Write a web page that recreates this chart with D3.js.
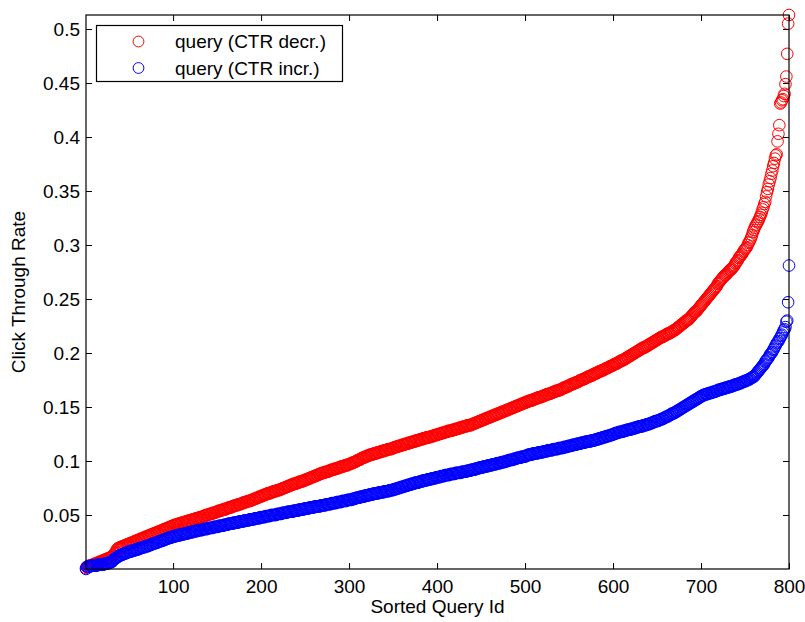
<!DOCTYPE html>
<html>
<head>
<meta charset="utf-8">
<script src="https://cdn.jsdelivr.net/npm/d3@7"></script>
<style>
  html, body { margin: 0; padding: 0; background: #fff; }
  svg { display: block; }
  text { font-family: "Liberation Sans", Arial, Helvetica, sans-serif; fill: #000; }
</style>
</head>
<body>
<div id="chart"></div>
<script>
// ---- Data (sorted click-through rate for each query id 1..800) ----
const seriesNames = ["query (CTR decr.)", "query (CTR incr.)"];
const seriesColors = ["#ff0000", "#0000ff"];
const xTicks = [100, 200, 300, 400, 500, 600, 700, 800];
const yTicks = [0.05, 0.1, 0.15, 0.2, 0.25, 0.3, 0.35, 0.4, 0.45, 0.5];
const yTickLabels = ["0.05", "0.1", "0.15", "0.2", "0.25", "0.3", "0.35", "0.4", "0.45", "0.5"];
const xLabel = "Sorted Query Id";
const yLabel = "Click Through Rate";

const ctrDecr = [
.001,.002,.002,.003,.003,.003,.003,.004,.004,.004,.005,.005,.005,.006,.006,.006,.007,.007,.007,.008,
.008,.008,.009,.009,.009,.010,.010,.010,.011,.011,.012,.013,.014,.015,.016,.018,.019,.019,.020,.020,
.020,.021,.021,.021,.022,.022,.022,.023,.023,.023,.024,.024,.024,.025,.025,.025,.026,.026,.026,.027,
.027,.027,.028,.028,.028,.029,.029,.029,.030,.030,.030,.031,.031,.031,.032,.032,.032,.033,.033,.033,
.034,.034,.034,.035,.035,.035,.036,.036,.036,.037,.037,.037,.038,.038,.038,.039,.039,.039,.040,.040,
.040,.041,.041,.041,.041,.042,.042,.042,.042,.043,.043,.043,.043,.044,.044,.044,.044,.045,.045,.045,
.045,.046,.046,.046,.046,.047,.047,.047,.047,.048,.048,.048,.048,.049,.049,.049,.050,.050,.050,.050,
.051,.051,.051,.051,.052,.052,.052,.052,.053,.053,.053,.054,.054,.054,.054,.055,.055,.055,.055,.056,
.056,.056,.057,.057,.057,.057,.058,.058,.058,.059,.059,.059,.059,.060,.060,.060,.060,.061,.061,.061,
.062,.062,.062,.062,.063,.063,.063,.063,.064,.064,.064,.065,.065,.065,.066,.066,.066,.067,.067,.067,
.068,.068,.068,.069,.069,.069,.070,.070,.070,.070,.071,.071,.071,.072,.072,.072,.072,.073,.073,.073,
.073,.074,.074,.074,.075,.075,.075,.076,.076,.076,.077,.077,.077,.078,.078,.078,.079,.079,.079,.079,
.080,.080,.080,.081,.081,.081,.081,.082,.082,.082,.083,.083,.083,.084,.084,.084,.085,.085,.085,.086,
.086,.086,.087,.087,.087,.088,.088,.088,.089,.089,.089,.089,.090,.090,.090,.090,.091,.091,.091,.092,
.092,.092,.092,.093,.093,.093,.093,.094,.094,.094,.095,.095,.095,.095,.096,.096,.096,.096,.097,.097,
.097,.098,.098,.098,.099,.099,.099,.100,.100,.101,.101,.101,.102,.102,.103,.103,.103,.104,.104,.104,
.105,.105,.105,.106,.106,.106,.106,.107,.107,.107,.107,.108,.108,.108,.108,.109,.109,.109,.109,.110,
.110,.110,.110,.111,.111,.111,.111,.111,.112,.112,.112,.113,.113,.113,.113,.114,.114,.114,.114,.115,
.115,.115,.115,.116,.116,.116,.116,.117,.117,.117,.117,.118,.118,.118,.118,.119,.119,.119,.119,.120,
.120,.120,.120,.121,.121,.121,.121,.122,.122,.122,.122,.122,.123,.123,.123,.123,.124,.124,.124,.124,
.125,.125,.125,.125,.126,.126,.126,.126,.127,.127,.127,.127,.128,.128,.128,.128,.128,.129,.129,.129,
.129,.130,.130,.130,.130,.131,.131,.131,.131,.132,.132,.132,.132,.133,.133,.133,.133,.133,.134,.134,
.134,.135,.135,.135,.136,.136,.136,.137,.137,.137,.138,.138,.138,.139,.139,.139,.140,.140,.140,.141,
.141,.141,.142,.142,.142,.143,.143,.143,.144,.144,.144,.145,.145,.145,.146,.146,.146,.147,.147,.147,
.148,.148,.148,.149,.149,.149,.150,.150,.150,.151,.151,.151,.152,.152,.152,.153,.153,.153,.154,.154,
.154,.155,.155,.155,.156,.156,.156,.156,.157,.157,.157,.158,.158,.158,.159,.159,.159,.159,.160,.160,
.160,.161,.161,.161,.162,.162,.162,.162,.163,.163,.163,.164,.164,.164,.165,.165,.165,.165,.166,.166,
.166,.167,.167,.168,.168,.168,.169,.169,.169,.170,.170,.171,.171,.171,.172,.172,.172,.173,.173,.173,
.174,.174,.175,.175,.175,.176,.176,.176,.177,.177,.178,.178,.178,.179,.179,.179,.180,.180,.181,.181,
.181,.182,.182,.183,.183,.183,.184,.184,.184,.185,.185,.186,.186,.186,.187,.187,.188,.188,.188,.189,
.189,.190,.190,.190,.191,.191,.192,.192,.193,.193,.193,.194,.194,.195,.195,.196,.196,.197,.197,.198,
.198,.199,.199,.200,.200,.201,.201,.202,.202,.203,.203,.204,.204,.205,.205,.205,.206,.206,.207,.207,
.208,.208,.209,.209,.210,.210,.211,.211,.212,.212,.213,.213,.214,.214,.215,.215,.215,.216,.216,.217,
.217,.218,.218,.218,.219,.219,.220,.220,.221,.221,.222,.222,.223,.224,.224,.225,.226,.226,.227,.228,
.228,.229,.230,.230,.231,.231,.232,.233,.234,.235,.236,.237,.238,.238,.239,.240,.241,.242,.243,.244,
.245,.246,.247,.248,.249,.250,.251,.252,.253,.254,.255,.256,.257,.258,.259,.260,.261,.262,.264,.265,
.266,.267,.268,.269,.270,.271,.272,.272,.273,.274,.275,.276,.277,.277,.278,.279,.280,.281,.283,.284,
.285,.286,.288,.289,.290,.291,.292,.294,.295,.296,.297,.298,.300,.302,.303,.305,.307,.309,.312,.314,
.316,.318,.319,.321,.322,.324,.326,.328,.330,.333,.335,.338,.340,.345,.349,.352,.356,.359,.362,.366,
.369,.373,.376,.380,.383,.384,.396,.403,.411,.431,.432,.434,.435,.438,.440,.449,.456,.477,.505,.513
];

const ctrIncr = [
.000,.002,.002,.002,.002,.003,.003,.003,.003,.003,.003,.003,.003,.004,.004,.004,.004,.004,.004,.004,
.004,.005,.005,.005,.005,.005,.006,.006,.006,.007,.007,.008,.009,.010,.010,.011,.011,.012,.012,.013,
.013,.013,.014,.014,.014,.015,.015,.015,.016,.016,.016,.016,.017,.017,.017,.017,.018,.018,.018,.018,
.019,.019,.019,.020,.020,.020,.020,.021,.021,.021,.021,.022,.022,.022,.023,.023,.023,.024,.024,.024,
.024,.025,.025,.025,.026,.026,.026,.026,.027,.027,.027,.028,.028,.028,.029,.029,.029,.029,.030,.030,
.030,.030,.031,.031,.031,.031,.031,.032,.032,.032,.032,.032,.033,.033,.033,.033,.033,.034,.034,.034,
.034,.034,.035,.035,.035,.035,.035,.036,.036,.036,.036,.036,.036,.037,.037,.037,.037,.037,.037,.038,
.038,.038,.038,.038,.038,.039,.039,.039,.039,.039,.039,.040,.040,.040,.040,.040,.040,.041,.041,.041,
.041,.041,.042,.042,.042,.042,.042,.042,.043,.043,.043,.043,.043,.043,.044,.044,.044,.044,.044,.044,
.045,.045,.045,.045,.045,.045,.046,.046,.046,.046,.046,.046,.047,.047,.047,.047,.047,.047,.048,.048,
.048,.048,.048,.048,.049,.049,.049,.049,.049,.049,.050,.050,.050,.050,.050,.050,.050,.051,.051,.051,
.051,.051,.051,.052,.052,.052,.052,.052,.052,.053,.053,.053,.053,.053,.053,.053,.054,.054,.054,.054,
.054,.054,.055,.055,.055,.055,.055,.055,.056,.056,.056,.056,.056,.056,.057,.057,.057,.057,.057,.057,
.058,.058,.058,.058,.058,.058,.058,.059,.059,.059,.059,.059,.059,.060,.060,.060,.060,.060,.060,.061,
.061,.061,.061,.061,.061,.062,.062,.062,.062,.062,.062,.063,.063,.063,.063,.063,.063,.064,.064,.064,
.064,.064,.064,.065,.065,.065,.065,.066,.066,.066,.066,.066,.067,.067,.067,.067,.067,.068,.068,.068,
.068,.068,.069,.069,.069,.069,.069,.070,.070,.070,.070,.070,.070,.071,.071,.071,.071,.071,.071,.072,
.072,.072,.072,.072,.072,.073,.073,.073,.073,.073,.074,.074,.074,.074,.075,.075,.075,.075,.076,.076,
.076,.076,.077,.077,.077,.077,.078,.078,.078,.078,.079,.079,.079,.079,.080,.080,.080,.080,.080,.081,
.081,.081,.081,.082,.082,.082,.082,.082,.083,.083,.083,.083,.083,.084,.084,.084,.084,.084,.085,.085,
.085,.085,.085,.086,.086,.086,.086,.086,.087,.087,.087,.087,.087,.087,.088,.088,.088,.088,.088,.088,
.089,.089,.089,.089,.089,.089,.089,.090,.090,.090,.090,.090,.090,.091,.091,.091,.091,.091,.092,.092,
.092,.092,.092,.093,.093,.093,.093,.094,.094,.094,.094,.094,.095,.095,.095,.095,.095,.096,.096,.096,
.096,.096,.097,.097,.097,.097,.097,.098,.098,.098,.098,.098,.099,.099,.099,.099,.099,.100,.100,.100,
.100,.101,.101,.101,.101,.101,.102,.102,.102,.102,.103,.103,.103,.103,.103,.104,.104,.104,.104,.104,
.105,.105,.105,.106,.106,.106,.106,.106,.107,.107,.107,.107,.107,.107,.108,.108,.108,.108,.108,.108,
.109,.109,.109,.109,.109,.110,.110,.110,.110,.110,.110,.111,.111,.111,.111,.111,.111,.112,.112,.112,
.112,.112,.112,.113,.113,.113,.113,.113,.114,.114,.114,.114,.114,.115,.115,.115,.115,.115,.116,.116,
.116,.116,.116,.117,.117,.117,.117,.117,.118,.118,.118,.118,.118,.118,.119,.119,.119,.119,.119,.120,
.120,.120,.120,.121,.121,.121,.121,.122,.122,.122,.122,.123,.123,.123,.123,.124,.124,.124,.124,.125,
.125,.125,.126,.126,.126,.126,.127,.127,.127,.127,.127,.128,.128,.128,.128,.129,.129,.129,.129,.129,
.130,.130,.130,.130,.131,.131,.131,.131,.132,.132,.132,.132,.132,.133,.133,.133,.133,.134,.134,.134,
.134,.135,.135,.135,.136,.136,.136,.137,.137,.137,.137,.138,.138,.138,.139,.139,.139,.140,.140,.141,
.141,.141,.142,.142,.143,.143,.144,.144,.144,.145,.145,.146,.146,.147,.147,.148,.148,.149,.149,.150,
.150,.151,.151,.152,.152,.153,.153,.154,.154,.155,.155,.156,.156,.157,.157,.158,.158,.159,.159,.160,
.160,.161,.161,.161,.162,.162,.162,.162,.163,.163,.163,.163,.164,.164,.164,.164,.165,.165,.165,.166,
.166,.166,.166,.167,.167,.167,.167,.168,.168,.168,.168,.169,.169,.169,.169,.170,.170,.170,.171,.171,
.171,.171,.172,.172,.172,.173,.173,.173,.174,.174,.174,.175,.175,.175,.176,.176,.177,.177,.178,.178,
.179,.180,.181,.182,.183,.184,.185,.186,.187,.188,.189,.190,.192,.193,.194,.195,.196,.198,.199,.200,
.201,.203,.204,.206,.207,.209,.210,.211,.213,.214,.216,.217,.219,.221,.222,.224,.229,.230,.247,.281
];

const seriesValues = [ctrDecr, ctrIncr];

// ---- Layout ----
const W = 805, H = 622;
const margin = { left: 86, right: 16, top: 15, bottom: 53 };
const iw = W - margin.left - margin.right;
const ih = H - margin.top - margin.bottom;

const svg = d3.select("#chart").append("svg")
  .attr("width", W).attr("height", H);

const allVals = ctrDecr.concat(ctrIncr);
const x = d3.scaleLinear().domain([1, ctrDecr.length]).range([0, iw]);
const y = d3.scaleLinear().domain([d3.min(allVals), d3.max(allVals)]).range([ih, 0]);

const g = svg.append("g").attr("transform", `translate(${margin.left},${margin.top})`);

// Data markers (red first, blue on top)
seriesValues.forEach((vals, s) => {
  g.append("g")
    .selectAll("circle")
    .data(vals)
    .join("circle")
    .attr("cx", (d, i) => x(i + 1))
    .attr("cy", d => y(d))
    .attr("r", 5.8)
    .attr("fill", "none")
    .attr("stroke", seriesColors[s])
    .attr("stroke-width", 1);
});

// Axes (ticks pointing inward, MATLAB style)
const fontSize = 19;
const axB = g.append("g").attr("transform", `translate(0,${ih})`)
  .call(d3.axisBottom(x).tickValues(xTicks).tickSizeInner(-6).tickSizeOuter(0).tickPadding(11).tickFormat(d3.format("d")));
const axL = g.append("g")
  .call(d3.axisLeft(y).tickValues(yTicks).tickSizeInner(-6).tickSizeOuter(0).tickPadding(6)
    .tickFormat((d, i) => yTickLabels[i]));
const axT = g.append("g")
  .call(d3.axisTop(x).tickValues(xTicks).tickSizeInner(-6).tickSizeOuter(0).tickFormat(""));
const axR = g.append("g").attr("transform", `translate(${iw},0)`)
  .call(d3.axisRight(y).tickValues(yTicks).tickSizeInner(-6).tickSizeOuter(0).tickFormat(""));

[axB, axL, axT, axR].forEach(a => {
  a.select(".domain").remove();
  a.selectAll(".tick line").attr("stroke", "#000").attr("stroke-width", 1);
  a.selectAll("text").attr("font-size", fontSize)
    .attr("font-family", "'Liberation Sans', Arial, sans-serif").attr("fill", "#000");
});

// Frame
g.append("rect").attr("x", 0).attr("y", 0).attr("width", iw).attr("height", ih)
  .attr("fill", "none").attr("stroke", "#000").attr("stroke-width", 1.2);

// Axis labels
svg.append("text")
  .attr("x", margin.left + iw / 2).attr("y", 613)
  .attr("text-anchor", "middle").attr("font-size", fontSize)
  .text(xLabel);
svg.append("text")
  .attr("transform", `translate(25,${margin.top + ih / 2}) rotate(-90)`)
  .attr("text-anchor", "middle").attr("font-size", fontSize)
  .text(yLabel);

// Legend
const lg = svg.append("g").attr("transform", "translate(96.5,25.5)");
lg.append("rect").attr("width", 246).attr("height", 56)
  .attr("fill", "#fff").attr("stroke", "#000").attr("stroke-width", 1.2);
seriesNames.forEach((name, s) => {
  const cy = 16 + s * 26.5;
  lg.append("circle").attr("cx", 42).attr("cy", cy).attr("r", 5.4)
    .attr("fill", "none").attr("stroke", seriesColors[s]).attr("stroke-width", 1);
  lg.append("text").attr("x", 78.5).attr("y", cy + 6.5)
    .attr("font-size", fontSize).text(name);
});
</script>
</body>
</html>
